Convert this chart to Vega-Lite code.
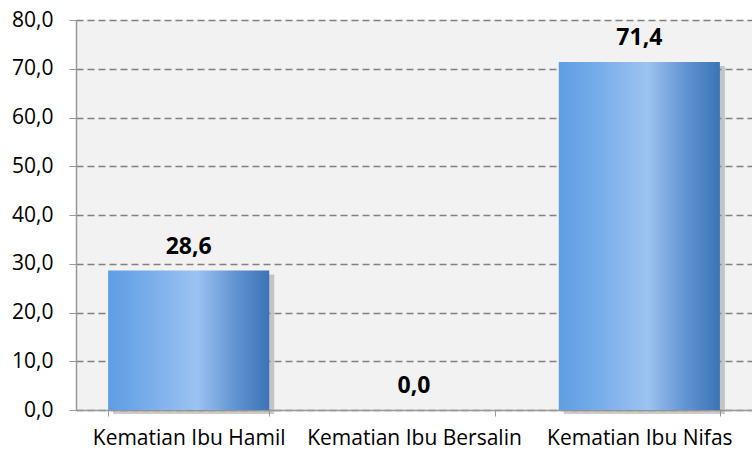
{
  "$schema": "https://vega.github.io/schema/vega-lite/v6.json",
  "width": 676,
  "height": 390,
  "autosize": {"type": "none"},
  "padding": {"left": 76, "top": 20, "right": 0, "bottom": 46},
  "background": "white",
  "config": {
    "locale": {"number": {"decimal": ",", "thousands": ".", "grouping": [3], "currency": ["", ""]}},
    "view": {"fill": "#f2f2f2", "stroke": null},
    "font": "Open Sans"
  },
  "data": {
    "values": [
      {"kategori": "Kematian Ibu Hamil", "nilai": 28.6},
      {"kategori": "Kematian Ibu Bersalin", "nilai": 0.0},
      {"kategori": "Kematian Ibu Nifas", "nilai": 71.4}
    ]
  },
  "encoding": {
    "x": {
      "field": "kategori",
      "type": "nominal",
      "sort": null,
      "scale": {"paddingInner": 0.285, "paddingOuter": 0.1425},
      "axis": {
        "title": null,
        "labelAngle": 0,
        "labelFont": "Open Sans",
        "labelFontSize": 21,
        "labelLimit": 400,
        "labelColor": "#000",
        "labelPadding": 11,
        "domainColor": "#999",
        "domainWidth": 1.5,
        "tickColor": "#999",
        "tickSize": 6,
        "tickBand": "extent",
        "grid": false
      }
    },
    "y": {
      "field": "nilai",
      "type": "quantitative",
      "scale": {"domain": [0, 80], "nice": false},
      "axis": {
        "title": null,
        "values": [0, 10, 20, 30, 40, 50, 60, 70, 80],
        "format": ".1f",
        "labelFont": "Open Sans",
        "labelFontSize": 21,
        "labelColor": "#000",
        "labelPadding": 16,
        "domainColor": "#999",
        "domainWidth": 1.5,
        "tickColor": "#999",
        "tickSize": 7,
        "grid": true,
        "gridColor": "#808080",
        "gridDash": [7, 4],
        "gridWidth": 1.3
      }
    }
  },
  "layer": [
    {
      "mark": {"type": "bar", "color": "#8c8c8c", "opacity": 0.45, "xOffset": 5, "yOffset": 4},
      "encoding": {}
    },
    {
      "mark": {
        "type": "bar",
        "color": {
          "gradient": "linear",
          "x1": 0, "x2": 1, "y1": 0, "y2": 0,
          "stops": [
            {"offset": 0, "color": "#5f9de4"},
            {"offset": 0.25, "color": "#78adea"},
            {"offset": 0.55, "color": "#9cc3f2"},
            {"offset": 0.8, "color": "#5f91d0"},
            {"offset": 1, "color": "#3b74b6"}
          ]
        }
      },
      "encoding": {}
    },
    {
      "mark": {"type": "text", "baseline": "middle", "dy": -24, "font": "Open Sans", "fontSize": 23, "fontWeight": "bold", "color": "#000"},
      "encoding": {"text": {"field": "nilai", "type": "quantitative", "format": ".1f"}}
    }
  ]
}
